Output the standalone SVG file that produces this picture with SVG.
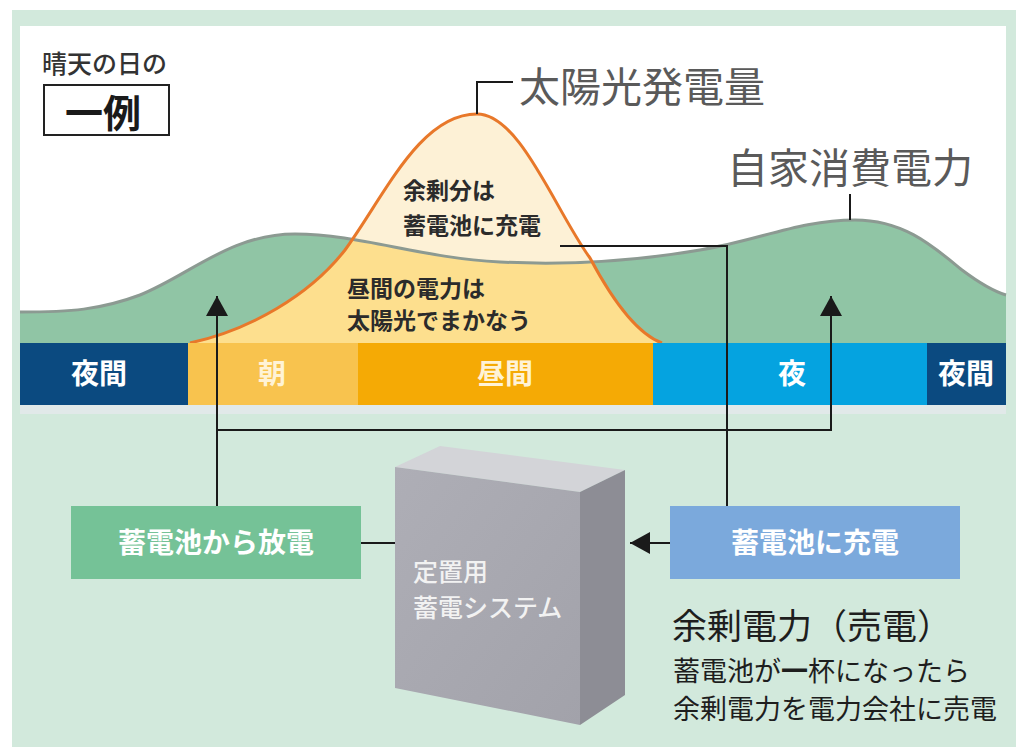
<svg xmlns="http://www.w3.org/2000/svg" width="1016" height="747" viewBox="0 0 1016 747">
  <defs>
    <style>
      text { font-family: "Noto Sans CJK JP", "Noto Sans", sans-serif; }
      .band { font-size: 28px; font-weight: 700; text-anchor: middle; }
      .note { font-size: 23px; font-weight: 700; fill: #2b2b2b; }
      .title { font-size: 41px; fill: #5a5a5a; }
      .lead { fill: none; stroke: #1a1a1a; stroke-width: 2; }
      .boxlabel { font-size: 28px; font-weight: 700; fill: #ffffff; text-anchor: middle; }
      .unit { font-size: 25px; font-weight: 500; fill: #f2f2f2; }
      .sub { font-size: 27px; fill: #1e1e1e; }
    </style>
    <marker id="arrowbig" viewBox="0 0 20 22" refX="20" refY="11" markerWidth="20" markerHeight="22" markerUnits="userSpaceOnUse" orient="auto">
      <path d="M0,0 L20,11 L0,22 Z" fill="#1a1a1a"/>
    </marker>
    <!-- household consumption area -->
    <path id="demand" d="M20,312 C70,312 100,310 140,295 C190,275 230,234 295,234 C360,234 420,258 500,262 C560,265 630,262 700,250 C760,240 800,220 855,220 C905,220 935,248 962,270 C982,285 996,292 1006,295 L1006,343 L20,343 Z"/>
    <!-- solar generation area -->
    <path id="solar" d="M190,343 C250,330 310,295 345,250 C385,195 420,114 477,114 C520,114 555,210 590,258 C615,305 640,335 662,343 Z"/>
    <clipPath id="belowDemand">
      <use href="#demand"/>
    </clipPath>
    <linearGradient id="front" x1="0" y1="0" x2="1" y2="1">
      <stop offset="0" stop-color="#aeaeb6"/>
      <stop offset="1" stop-color="#a2a2aa"/>
    </linearGradient>
  </defs>

  <!-- backdrop -->
  <rect x="12" y="10" width="1004" height="737" fill="#d2e9dc"/>
  <rect x="20" y="26" width="986" height="318" fill="#ffffff"/>
  <rect x="20" y="405" width="986" height="9" fill="#e1e9e9"/>

  <!-- curves -->
  <g id="curves">
    <use href="#demand" fill="#90c5a5"/>
    <use href="#solar" fill="#fdf1d6"/>
    <use href="#solar" fill="#fddf8e" clip-path="url(#belowDemand)"/>
    <path d="M20,312 C70,312 100,310 140,295 C190,275 230,234 295,234 C360,234 420,258 500,262 C560,265 630,262 700,250 C760,240 800,220 855,220 C905,220 935,248 962,270 C982,285 996,292 1006,295" fill="none" stroke="#8c9a92" stroke-width="3"/>
    <path d="M190,343 C250,330 310,295 345,250 C385,195 420,114 477,114 C520,114 555,210 590,258 C615,305 640,335 662,343" fill="none" stroke="#e8782a" stroke-width="3"/>
  </g>

  <!-- time-of-day band -->
  <g id="band">
    <rect x="20" y="343" width="168" height="62" fill="#0b4a80"/>
    <rect x="188" y="343" width="170" height="62" fill="#f8c34e"/>
    <rect x="358" y="343" width="295" height="62" fill="#f5aa05"/>
    <rect x="653" y="343" width="274" height="62" fill="#05a3e0"/>
    <rect x="927" y="343" width="79" height="62" fill="#0b4a80"/>
    <text class="band" x="99" y="384" fill="#ffffff">夜間</text>
    <text class="band" x="272" y="384" fill="#fff3d6">朝</text>
    <text class="band" x="505" y="384" fill="#fff3d6">昼間</text>
    <text class="band" x="792" y="384" fill="#ffffff">夜</text>
    <text class="band" x="966" y="384" fill="#ffffff">夜間</text>
  </g>

  <!-- heading -->
  <g id="heading">
    <text x="42" y="73" font-size="25" font-weight="500" fill="#333333">晴天の日の</text>
    <rect x="44" y="85" width="125" height="50" fill="#ffffff" stroke="#222222" stroke-width="2"/>
    <text x="103" y="127" font-size="38" font-weight="700" fill="#1a1a1a" text-anchor="middle">一例</text>
  </g>

  <!-- curve labels -->
  <g id="solar-label">
    <text class="title" x="519" y="102">太陽光発電量</text>
  </g>
  <g id="demand-label">
    <text class="title" x="727" y="183">自家消費電力</text>
  </g>
  <g id="surplus-note">
    <text class="note" x="403" y="199">余剰分は</text>
    <text class="note" x="403" y="234">蓄電池に充電</text>
  </g>
  <g id="daytime-note">
    <text class="note" x="347" y="297">昼間の電力は</text>
    <text class="note" x="347" y="329">太陽光でまかなう</text>
  </g>

  <!-- storage unit -->
  <g id="storage">
    <polygon points="395,467 440,446 625,470 580,492" fill="#d3d4d8"/>
    <polygon points="580,492 625,470 625,695 580,725" fill="#8d8d95"/>
    <polygon points="395,467 580,492 580,725 395,688" fill="url(#front)"/>
    <text class="unit" x="413" y="581">定置用</text>
    <text class="unit" x="413" y="617">蓄電システム</text>
  </g>

  <!-- discharge box -->
  <g id="discharge">
    <rect x="71" y="506" width="290" height="73" fill="#75c297"/>
    <text class="boxlabel" x="216" y="553">蓄電池から放電</text>
  </g>

  <!-- charge box -->
  <g id="charge">
    <rect x="670" y="506" width="290" height="73" fill="#7ba9dc"/>
    <text class="boxlabel" x="815" y="553">蓄電池に充電</text>
  </g>

  <!-- selling note -->
  <g id="sell">
    <text x="672" y="639" font-size="35" fill="#1e1e1e">余剰電力（売電）</text>
    <text class="sub" x="673" y="681">蓄電池が<tspan font-weight="700">一</tspan>杯になったら</text>
    <text class="sub" x="673" y="719">余剰電力を電力会社に売電</text>
  </g>

  <!-- connectors -->
  <g id="connectors">
    <polyline class="lead" points="477,114 477,82 513,82"/>
    <line class="lead" x1="850" y1="194" x2="850" y2="220"/>
    <polyline class="lead" points="560,246 727,246 727,506"/>
    <polyline class="lead" points="217,506 217,296" marker-end="url(#arrowbig)"/>
    <polyline class="lead" points="217,430 831,430 831,296" marker-end="url(#arrowbig)"/>
    <line class="lead" x1="361" y1="543" x2="395" y2="543"/>
    <line class="lead" x1="670" y1="543" x2="630" y2="543" marker-end="url(#arrowbig)"/>
  </g>
</svg>
